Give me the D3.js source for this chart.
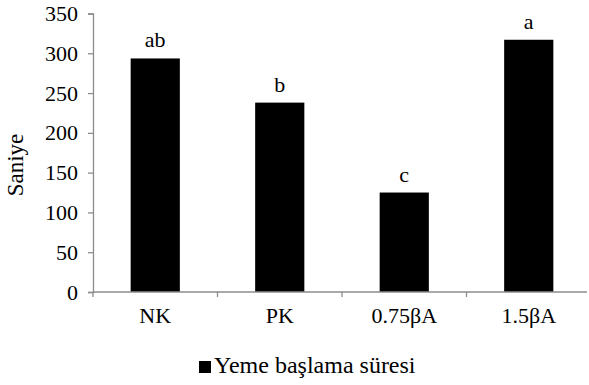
<!DOCTYPE html>
<html><head><meta charset="utf-8">
<script src="https://cdn.jsdelivr.net/npm/d3@7"></script>
</head><body style="margin:0;background:#fff"><svg id="c" width="589" height="385" style="display:block"></svg>
<script>
const categories = ["NK", "PK", "0.75βA", "1.5βA"];
const values = [293.5, 238, 125, 317];
const letters = ["ab", "b", "c", "a"];
const yTicks = [0, 50, 100, 150, 200, 250, 300, 350];
const seriesName = "Yeme başlama süresi";

const svg = d3.select("#c");
const m = {l: 93, r: 587, t: 13.5, b: 292};
const x = d3.scaleBand().domain(categories).range([m.l, m.l + 124.5 * 4]).paddingInner(0.605).paddingOuter(0.3025);
const y = d3.scaleLinear().domain([0, 350]).range([m.b, m.t]);
const axisColor = "#8c8c8c";

function styleText(sel, size) {
  return sel.style("font-family", '"Liberation Serif"').style("font-size", (size || 22) + "px").attr("fill", "#000");
}

const ya = svg.append("g").attr("transform", `translate(${m.l},0)`)
  .call(d3.axisLeft(y).tickValues(yTicks).tickSize(5).tickPadding(10));
ya.select(".domain").attr("stroke", axisColor).attr("stroke-width", 1.3);
ya.selectAll(".tick line").attr("stroke", axisColor).attr("stroke-width", 1.3);
styleText(ya.selectAll(".tick text"));

svg.selectAll("rect.bar").data(values).join("rect").attr("class", "bar")
  .attr("x", (d, i) => x(categories[i]))
  .attr("width", x.bandwidth())
  .attr("y", d => y(d))
  .attr("height", d => y(0) - y(d))
  .attr("fill", "#000");

styleText(svg.selectAll("text.lab").data(values).join("text").attr("class", "lab")
  .attr("x", (d, i) => x(categories[i]) + x.bandwidth() / 2)
  .attr("y", d => y(d) - 11)
  .attr("text-anchor", "middle")
  .text((d, i) => letters[i]));

const xEdges = d3.scaleLinear().domain([0, 4]).range([m.l, m.l + 124.5 * 4]);
const xa = svg.append("g").attr("transform", `translate(0,${m.b})`);
xa.append("line").attr("x1", m.l).attr("x2", m.r).attr("stroke", axisColor).attr("stroke-width", 1.3);
xa.selectAll("line.t").data(d3.range(5)).join("line").attr("class", "t")
  .attr("x1", d => xEdges(d)).attr("x2", d => xEdges(d)).attr("y1", 0).attr("y2", 5)
  .attr("stroke", axisColor).attr("stroke-width", 1.3);
styleText(xa.selectAll("text.xl").data(categories).join("text").attr("class", "xl")
  .attr("x", d => x(d) + x.bandwidth() / 2)
  .attr("y", 31)
  .attr("text-anchor", "middle")
  .text(d => d));

styleText(svg.append("text").attr("transform", "translate(23,165) rotate(-90)")
  .attr("text-anchor", "middle").text("Saniye"), 23);

svg.append("rect").attr("x", 199).attr("y", 361).attr("width", 12).attr("height", 12).attr("fill", "#000");
styleText(svg.append("text").attr("x", 214).attr("y", 373).text(seriesName), 24);
</script></body></html>
